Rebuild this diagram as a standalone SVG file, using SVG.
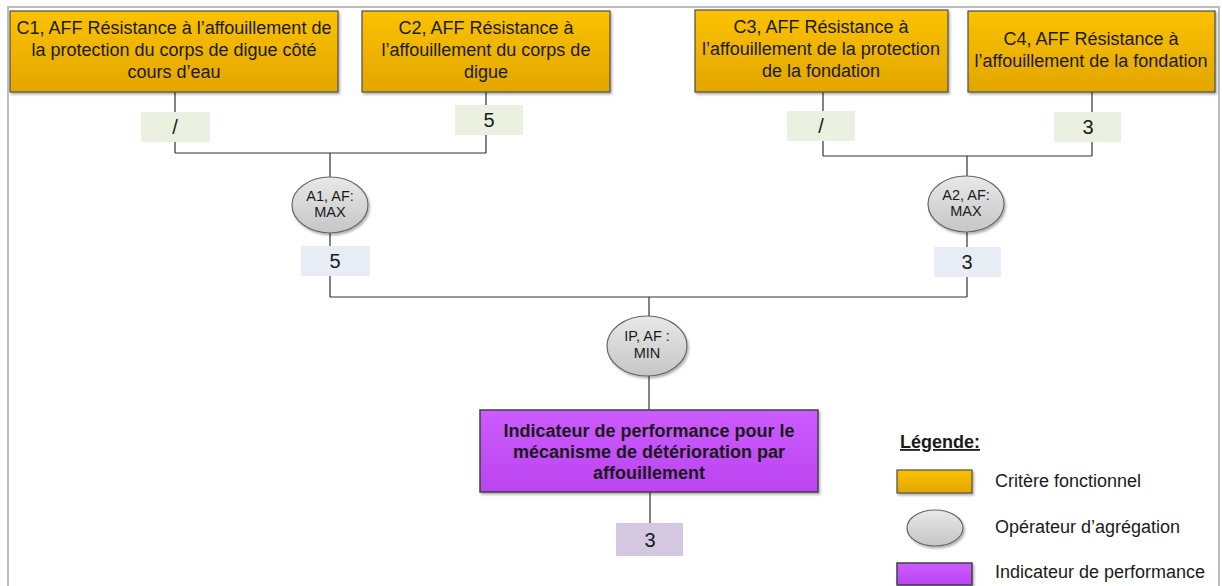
<svg xmlns="http://www.w3.org/2000/svg" width="1222" height="586" viewBox="0 0 1222 586">
<defs>
<linearGradient id="gOr" x1="0" y1="0" x2="0" y2="1"><stop offset="0" stop-color="#fbc200"/><stop offset="1" stop-color="#e2a600"/></linearGradient>
<linearGradient id="gGr" x1="0" y1="0" x2="0" y2="1"><stop offset="0" stop-color="#e8e8e8"/><stop offset="1" stop-color="#c6c6c6"/></linearGradient>
<linearGradient id="gPu" x1="0" y1="0" x2="0" y2="1"><stop offset="0" stop-color="#cc5cff"/><stop offset="1" stop-color="#bb44f0"/></linearGradient>
<filter id="sh" x="-10%" y="-10%" width="130%" height="140%"><feDropShadow dx="1.5" dy="2" stdDeviation="1.2" flood-color="#000" flood-opacity="0.3"/></filter>
</defs>
<style>
text{font-family:"Liberation Sans",Arial,sans-serif;fill:#1a1a1a}
.t{font-size:18px;text-anchor:middle}
.b{font-size:18px;font-weight:bold;text-anchor:middle}
.s{font-size:14.5px;text-anchor:middle}
.v{font-size:20px;text-anchor:middle}
.l{font-size:18px}
.crit{fill:url(#gOr);stroke:#4d4d4d;stroke-width:1.2;filter:url(#sh)}
.op{fill:url(#gGr);stroke:#666;stroke-width:1.2;filter:url(#sh)}
.ind{fill:url(#gPu);stroke:#404040;stroke-width:1.5;filter:url(#sh)}
.vg{fill:#ebf1e0}
.vb{fill:#e8edf5}
.vp{fill:#d3c8e0}
.c{fill:none;stroke:#333;stroke-width:1.2}
</style>
<rect x="0" y="0" width="1222" height="586" fill="#fff"/>
<path d="M8,600 V7 H1219 V600" fill="none" stroke="#bdbdbd" stroke-width="2"/>
<g id="connectors">
<path class="c" d="M175,92 V153 M486,92 V153 M175,153 H486 M330,153 V177"/>
<path class="c" d="M823,92 V156 M1092,92 V156 M823,156 H1092 M967,156 V176"/>
<path class="c" d="M330,233 V297 M967,232 V297 M330,297 H967 M649,297 V316"/>
<path class="c" d="M649,376 V410 M650,492 V523"/>
</g>
<g id="C1"><rect class="crit" x="10" y="11" width="328" height="81"/>
<text class="t" x="174" y="34">C1, AFF Résistance à l’affouillement de</text>
<text class="t" x="174" y="56">la protection du corps de digue côté</text>
<text class="t" x="174" y="78">cours d’eau</text></g>
<g id="C2"><rect class="crit" x="362" y="11" width="248" height="81"/>
<text class="t" x="486" y="34">C2, AFF Résistance à</text>
<text class="t" x="486" y="56">l’affouillement du corps de</text>
<text class="t" x="486" y="78">digue</text></g>
<g id="C3"><rect class="crit" x="695" y="10" width="253" height="82"/>
<text class="t" x="821" y="33">C3, AFF Résistance à</text>
<text class="t" x="821" y="55">l’affouillement de la protection</text>
<text class="t" x="821" y="77">de la fondation</text></g>
<g id="C4"><rect class="crit" x="968" y="11" width="247" height="81"/>
<text class="t" x="1091" y="45">C4, AFF Résistance à</text>
<text class="t" x="1091" y="67">l’affouillement de la fondation</text></g>
<g id="v1"><rect class="vg" x="141" y="112" width="69" height="30"/><text class="v" x="175" y="134">/</text></g>
<g id="v2"><rect class="vg" x="455" y="105" width="68" height="30"/><text class="v" x="489" y="127">5</text></g>
<g id="v3"><rect class="vg" x="787" y="111" width="68" height="30"/><text class="v" x="821" y="133">/</text></g>
<g id="v4"><rect class="vg" x="1054" y="112" width="67" height="30"/><text class="v" x="1088" y="134">3</text></g>
<g id="A1"><ellipse class="op" cx="330" cy="205" rx="38" ry="28"/>
<text class="s" x="330" y="201">A1, AF:</text><text class="s" x="330" y="217">MAX</text></g>
<g id="A2"><ellipse class="op" cx="966" cy="204" rx="38" ry="28"/>
<text class="s" x="966" y="200">A2, AF:</text><text class="s" x="966" y="216">MAX</text></g>
<g id="vA1"><rect class="vb" x="301" y="246" width="69" height="30"/><text class="v" x="335" y="268">5</text></g>
<g id="vA2"><rect class="vb" x="934" y="247" width="67" height="30"/><text class="v" x="967" y="269">3</text></g>
<g id="IP"><ellipse class="op" cx="647" cy="346" rx="40" ry="30"/>
<text class="s" x="647" y="341">IP, AF :</text><text class="s" x="647" y="358">MIN</text></g>
<g id="IND"><rect class="ind" x="480" y="410" width="338" height="82"/>
<text class="b" x="649" y="437">Indicateur de performance pour le</text>
<text class="b" x="649" y="458">mécanisme de détérioration par</text>
<text class="b" x="649" y="479">affouillement</text></g>
<g id="vIND"><rect class="vp" x="616" y="523" width="67" height="33"/><text class="v" x="650" y="547">3</text></g>
<g id="legend">
<text class="l" x="900" y="448" font-weight="bold" text-decoration="underline">Légende:</text>
<rect class="crit" x="897" y="470" width="75" height="23"/>
<text class="l" x="995" y="487">Critère fonctionnel</text>
<ellipse class="op" cx="935" cy="528" rx="28" ry="18"/>
<text class="l" x="995" y="533">Opérateur d’agrégation</text>
<rect class="ind" x="897" y="563" width="75" height="22"/>
<text class="l" x="995" y="578">Indicateur de performance</text>
</g>
</svg>
